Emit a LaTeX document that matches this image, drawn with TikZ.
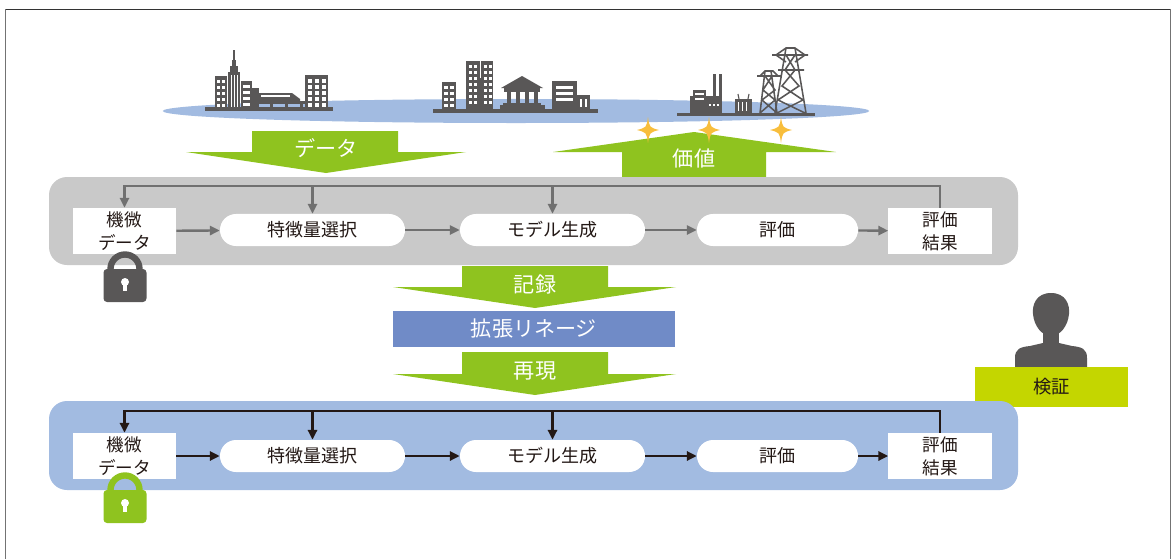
\documentclass[tikz,border=0pt]{standalone}
\usepackage{fontspec}
\setmainfont{Noto Sans CJK JP}
\usetikzlibrary{arrows.meta,positioning,calc}
\definecolor{panelgray}{RGB}{201,201,201}
\definecolor{panelblue}{RGB}{162,187,225}
\definecolor{arrgreen}{RGB}{143,195,31}
\definecolor{lineageblue}{RGB}{112,139,199}
\definecolor{checkgreen}{RGB}{196,214,0}
\definecolor{icongray}{RGB}{89,87,87}
\definecolor{arrgray}{RGB}{112,112,112}
\definecolor{arrblack}{RGB}{35,24,21}
\definecolor{txtdark}{RGB}{35,24,21}
\definecolor{sparkc}{RGB}{248,190,60}
\tikzset{
  % パネル
  panel/.style={rounded corners=0.45cm},
  % データ系の四角
  datbox/.style={fill=white, minimum width=2.575cm, minimum height=1.15cm,
    inner sep=0pt, align=center, text=txtdark,
    font=\fontsize{12.5}{16.3}\selectfont},
  % 工程 (角丸)
  stepbox/.style={fill=white, rounded corners=0.4cm, minimum width=4.625cm,
    minimum height=0.8cm, inner sep=0pt, text=txtdark,
    font=\fontsize{12.8}{15}\selectfont},
  % 矢印
  flowg/.style={-{Triangle[length=7pt,width=6.5pt]}, line width=1.7pt, arrgray},
  flowk/.style={-{Triangle[length=7pt,width=6.5pt]}, line width=2pt, arrblack},
  bigarr/.style={fill=arrgreen},
  arrlab/.style={text=white, font=\fontsize{15}{18}\selectfont},
  icon/.style={fill=icongray},
  win/.style={fill=white},
  pylon/.style={draw=icongray, line width=1.1pt},
  % 南京錠
  pics/padlock/.style={code={
    \draw[#1, line width=0.16cm] (-14.5,6) -- (-14.5,0)
      arc[start angle=180, end angle=0, radius=0.3625cm] -- (14.5,6);
    \fill[#1, rounded corners=2.5pt] (-21.5,0) rectangle (21.5,33);
    \fill[white] (0,13) circle[radius=0.1cm];
    \fill[white] (-1.6,13) rectangle (1.6,22);
  }},
  % きらめき
  pics/sparkle/.style={code={
    \fill[sparkc] (0,-13) .. controls (1.5,-2.5) .. (11,0)
      .. controls (1.5,2.5) .. (0,13) .. controls (-1.5,2.5) .. (-11,0)
      .. controls (-1.5,-2.5) .. (0,-13) -- cycle;
  }},
}

\begin{document}
\begin{tikzpicture}[x=0.025cm, y=-0.025cm]
  \useasboundingbox (0,0) rectangle (1172,559);

  % 外枠
  \draw[line width=0.8pt, black!80] (5.5,9.3) -- (1170.5,9.3);
  \draw[line width=0.8pt, black!55] (5.5,9.3) -- (5.5,559);
  \draw[line width=0.8pt, black!55] (1170.5,9.3) -- (1170.5,559);

  % 地面 (楕円)
  \fill[panelblue] (516,111) ellipse[x radius=8.83cm, y radius=0.3cm];

  % 街 (左)
  \fill[icon] (205,107) rectangle (333,111);
  \fill[icon] (215,76) rectangle (227,108);
  \foreach \y in {80,86,...,104} \foreach \x in {217,222}
    \fill[win] (\x,\y) rectangle ++(3,3);
  \fill[icon] (228,72) rectangle (240,108);
  \fill[icon] (230,66) rectangle (238,72);
  \fill[icon] (232,60) rectangle (236,66);
  \fill[icon] (233.3,50) rectangle (234.7,60);
  \foreach \x in {231,234,237}
    \fill[win] (\x,75) rectangle ++(1,32);
  \fill[icon] (241,81) rectangle (252,108);
  \foreach \y in {85,91,...,103} \fill[win] (243,\y) rectangle ++(7,2.5);
  \fill[icon] (252,88) rectangle (259,108);
  \fill[icon] (259,93) -- (292,93) -- (300,99) -- (300,101) -- (259,101) -- cycle;
  \fill[win] (261,95) rectangle (290,97);
  \fill[icon] (259,101) rectangle (305,104);
  \foreach \x in {270,285,300}
    \fill[icon] (\x,104) rectangle ++(2.5,4);
  \fill[icon] (305,75) rectangle (328,108);
  \foreach \y in {79,85,...,103} \foreach \x in {308,315,322}
    \fill[win] (\x,\y) rectangle ++(4,4);

  % 街 (中央)
  \fill[icon] (433,109) rectangle (598,113);
  \fill[icon] (442,82) rectangle (456,109);
  \foreach \y in {86,92,...,104} \foreach \x in {444,450}
    \fill[win] (\x,\y) rectangle ++(3.5,2.5);
  \fill[icon] (466,61) rectangle (493,109);
  \fill[win] (479.5,61) rectangle (480.5,78);
  \foreach \y in {65,71,...,104} \foreach \x in {469,474,484,489}
    \fill[win] (\x,\y) rectangle ++(2.5,2.5);
  \fill[icon] (501,88) -- (522,76) -- (543,88) -- cycle;
  \fill[icon] (504,88) rectangle (540,92);
  \foreach \x in {507,516,525,534}
    \fill[icon] (\x,92) rectangle ++(4,13);
  \fill[icon] (503,103) rectangle (541,105);
  \fill[icon] (500,105) rectangle (545,109);
  \fill[icon] (552,81) rectangle (577,109);
  \foreach \y in {86,92,98} \fill[win] (556,\y) rectangle (573,\y+2.5);
  \fill[icon] (577,95) rectangle (590,109);
  \foreach \x in {580,585} \fill[win] (\x,99) rectangle ++(2,8);

  % 発電所・送電線 (右)
  \fill[icon] (677,113) rectangle (815,116);
  \fill[icon] (690,96) rectangle (722,113);
  \fill[icon] (693,90) rectangle (706,96);
  \fill[win] (695,93) rectangle (704,94.5);
  \fill[win] (695,98) rectangle (704,99.5);
  \foreach \x in {709,713,717} \fill[win] (\x,104) rectangle ++(2,2);
  \fill[icon] (713,74) rectangle (716,96);
  \fill[icon] (719,74) rectangle (722,96);
  \fill[icon] (735,99) rectangle (752,113);
  \foreach \x in {738,742,746} \fill[win] (\x,102) rectangle ++(1.2,9);
  \draw[pylon, line width=0.8pt] (739,99) -- (738,94) (748,99) -- (749,94);
  % 鉄塔 (小)
  \draw[pylon] (757,76) -- (781,76) (760,76) -- (765,71) -- (773,71) -- (778,76)
    (765,71) -- (760,113) (771,71) -- (777,113)
    (765,76) -- (775,90) -- (762,100) -- (777,113)
    (772,76) -- (763,90) -- (775,100) -- (760,113);
  % 鉄塔 (大)
  \draw[pylon] (772,55) -- (808,55) (776,55) -- (786,48) -- (795,48) -- (805,55)
    (778,70) -- (804,70)
    (786,48) -- (775,113) (795,48) -- (806,113)
    (786,55) -- (795,70) -- (782,86) -- (803,100) -- (777,113)
    (795,55) -- (785,70) -- (799,86) -- (778,100) -- (805,113)
    (776,55) -- (786,62) (805,55) -- (795,62);

  % データ (下向き)
  \fill[bigarr] (252,131) -- (398,131) -- (398,152) -- (466,152) -- (326,173)
    -- (186,152) -- (252,152) -- cycle;
  \node[arrlab] (lbldata) at (326,148) {データ};

  % 価値 (上向き)
  \fill[bigarr] (622,177) -- (766,177) -- (766,152) -- (836,152) -- (694,132)
    -- (553,152) -- (622,152) -- cycle;
  \node[arrlab] (lblvalue) at (694,158) {価値};
  \foreach \x in {648,709,781}
    \pic at (\x,130) {sparkle};

  % 上段: 通常の流れ
  \fill[panelgray, panel] (49,177) rectangle (1018,265);
  \coordinate (fb1) at (0,186);
  \node[datbox] (kibi1) at (124.5,231) {機微\\データ};
  \node[stepbox] (tokucho1) at (312.5,230) {特徴量選択};
  \node[stepbox] (model1) at (552.5,230) {モデル生成};
  \node[stepbox, minimum width=4.025cm] (hyoka1) at (777.5,230) {評価};
  \node[datbox] (kekka1) at (940,231) {評価\\結果};
  \draw[flowg] (kibi1) -- (tokucho1);
  \draw[flowg] (tokucho1) -- (model1);
  \draw[flowg] (model1) -- (hyoka1);
  \draw[flowg] (hyoka1) -- (kekka1);
  \draw[flowg] (kekka1.north) -- (kekka1.north |- fb1) -| (kibi1.north);
  \draw[flowg] (tokucho1.north |- fb1) -- (tokucho1.north);
  \draw[flowg] (model1.north |- fb1) -- (model1.north);
  \pic at (125,269) {padlock=icongray};

  % 記録 → 拡張リネージ → 再現
  \fill[bigarr] (462,266) -- (608,266) -- (608,287) -- (676,287) -- (535,308)
    -- (393,287) -- (462,287) -- cycle;
  \node[arrlab] (lblrec) at (535,284) {記録};
  \node[fill=lineageblue, minimum width=7.05cm, minimum height=0.9cm,
    inner sep=0pt, arrlab] (lineage) at (534,329) {拡張リネージ};
  \fill[bigarr] (462,352) -- (608,352) -- (608,374) -- (676,374) -- (535,395)
    -- (393,374) -- (462,374) -- cycle;
  \node[arrlab] (lblrepro) at (535,371) {再現};

  % 検証者
  \fill[icon] (1051,293) .. controls (1036,293) and (1032,305) .. (1033,314)
    .. controls (1034,326) and (1042,336) .. (1051,336)
    .. controls (1060,336) and (1068,326) .. (1069,314)
    .. controls (1070,305) and (1066,293) .. (1051,293) -- cycle;
  \fill[icon] (1043,330) rectangle (1059,350);
  \fill[icon] (1015,372) -- (1015,358) .. controls (1015,349) and (1020,347) .. (1030,346)
    -- (1043,343) -- (1059,343) -- (1072,346)
    .. controls (1082,347) and (1087,349) .. (1087,358) -- (1087,372) -- cycle;
  \node[fill=checkgreen, minimum width=3.825cm, minimum height=1cm, inner sep=0pt,
    text=txtdark, font=\fontsize{13}{15}\selectfont] (kensho) at (1051.5,387) {検証};

  % 下段: 再現した流れ
  \fill[panelblue, panel] (49,401) rectangle (1018,490);
  \coordinate (fb2) at (0,411);
  \node[datbox] (kibi2) at (124.5,456) {機微\\データ};
  \node[stepbox] (tokucho2) at (312.5,456) {特徴量選択};
  \node[stepbox] (model2) at (552.5,456) {モデル生成};
  \node[stepbox, minimum width=4.025cm] (hyoka2) at (777.5,456) {評価};
  \node[datbox] (kekka2) at (940,456) {評価\\結果};
  \draw[flowk] (kibi2) -- (tokucho2);
  \draw[flowk] (tokucho2) -- (model2);
  \draw[flowk] (model2) -- (hyoka2);
  \draw[flowk] (hyoka2) -- (kekka2);
  \draw[flowk] (kekka2.north) -- (kekka2.north |- fb2) -| (kibi2.north);
  \draw[flowk] (tokucho2.north |- fb2) -- (tokucho2.north);
  \draw[flowk] (model2.north |- fb2) -- (model2.north);
  \pic at (125,490) {padlock=arrgreen};
\end{tikzpicture}
\end{document}
